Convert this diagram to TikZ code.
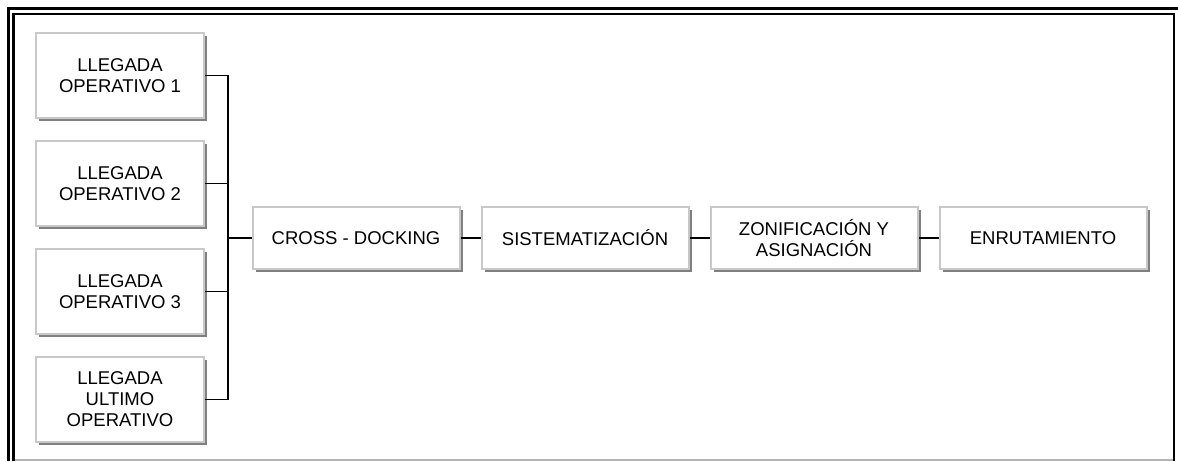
\documentclass[tikz,border=0pt]{standalone}
\usepackage{fontspec}
\setmainfont{Liberation Sans}
\usetikzlibrary{positioning,shadows}
\definecolor{boxline}{RGB}{200,200,200}
\definecolor{boxshade}{RGB}{128,128,128}
\definecolor{pageedge}{RGB}{180,180,180}
\tikzset{
  stage/.style={draw=boxline, line width=2pt, fill=white, align=center,
    inner sep=0pt, font=\fontsize{18.5}{21}\selectfont,
    drop shadow={shadow xshift=3pt, shadow yshift=-3pt, fill=boxshade, opacity=1}},
  arrival/.style={stage, minimum width=168pt, minimum height=85pt},
  task/.style={stage, minimum width=207pt, minimum height=62pt},
  link/.style={line width=1.5pt}
}
\begin{document}
\begin{tikzpicture}[x=1pt,y=-1pt]
\useasboundingbox (0,0) rectangle (1178,461);
% double frame round the page
\draw [line width=2.5pt] (8.7,461) -- (8.7,8.7) -- (1178,8.7);
\draw [line width=2.5pt] (13.5,461) -- (13.5,13.8) -- (1174,13.8) -- (1174,461);
\draw [pageedge,line width=1.3pt] (14.7,460) -- (1172.7,460);

\node (op1) [arrival] at (120,75.5) {LLEGADA\\OPERATIVO 1};
\node (op2) [arrival] at (120,183.5) {LLEGADA\\OPERATIVO 2};
\node (op3) [arrival] at (120,291.5) {LLEGADA\\OPERATIVO 3};
\node (oplast) [arrival] at (120,399.5) {LLEGADA\\ULTIMO\\OPERATIVO};

\node (cross) [task] at (356,238) {CROSS - DOCKING};
\node (sist) [task,right=20pt of cross] {SISTEMATIZACIÓN};
\node (zona) [task,right=20pt of sist] {ZONIFICACIÓN Y\\ASIGNACIÓN};
\node (ruta) [task,right=20pt of zona] {ENRUTAMIENTO};

\coordinate (bus) at (228,238);
\foreach \op in {op1,op2,op3,oplast}
  \draw [link] (\op.east) -| (bus);
\draw [link] (bus) -- (cross);
\draw [link] (cross) -- (sist);
\draw [link] (sist) -- (zona);
\draw [link] (zona) -- (ruta);
\end{tikzpicture}
\end{document}
